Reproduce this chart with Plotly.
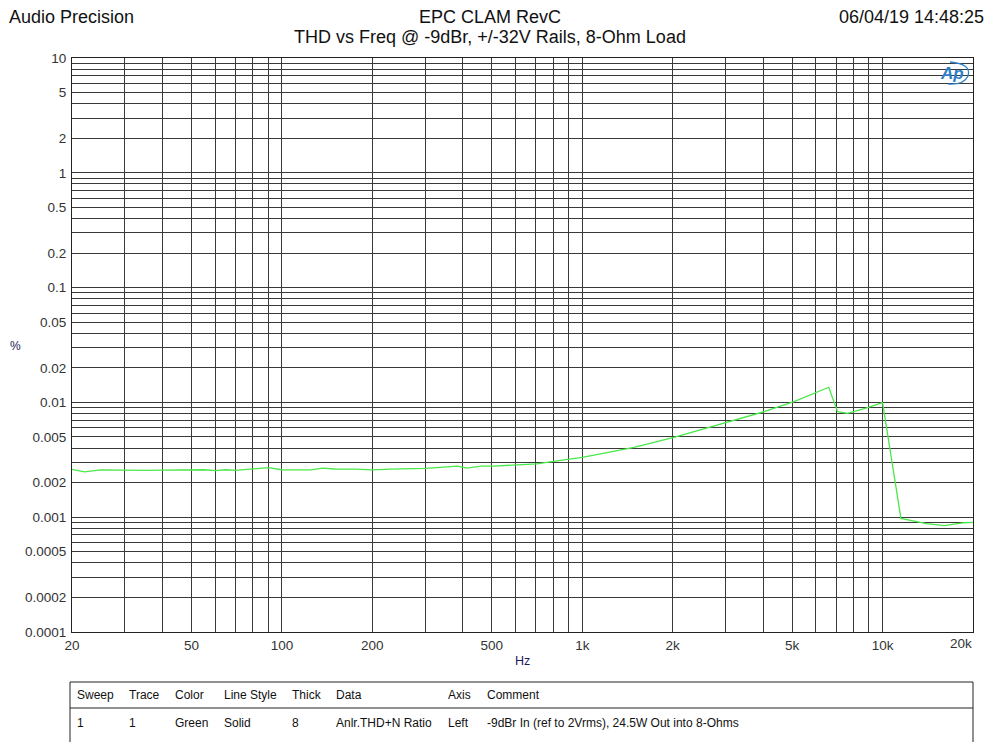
import plotly.graph_objects as go

# ---- data ----
freq_hz = [20, 22, 25, 30, 35, 40, 45, 50, 55, 60, 65, 70, 80, 90, 100, 110, 125, 137,
           150, 175, 200, 230, 260, 300, 345, 384, 413, 460, 506, 600, 705, 847, 1000,
           1150, 1486, 2019, 3041, 4030, 5070, 6620, 7080, 7640, 8800, 10000, 11510,
           14000, 16040, 18710, 20000]
thd_pct = [0.00261, 0.00248, 0.00258, 0.00255, 0.00256, 0.00257, 0.00258, 0.00256,
           0.00259, 0.00255, 0.00259, 0.00256, 0.00264, 0.00270, 0.00259, 0.00260,
           0.00258, 0.00268, 0.00263, 0.00262, 0.00258, 0.00262, 0.00263, 0.00266,
           0.00273, 0.00279, 0.00268, 0.00278, 0.00279, 0.00283, 0.00291, 0.00312,
           0.00332, 0.00356, 0.00406, 0.00497, 0.00679, 0.00830, 0.01014, 0.01355,
           0.00830, 0.00803, 0.00890, 0.00994, 0.000977, 0.00088, 0.000843, 0.000895,
           0.00090]

x_label_vals = [20, 50, 100, 200, 500, 1000, 2000, 5000, 10000]
x_label_text = ["20", "50", "100", "200", "500", "1k", "2k", "5k", "10k"]
x_last_label = "20k"
y_label_vals = [0.0001, 0.0002, 0.0005, 0.001, 0.002, 0.005, 0.01, 0.02, 0.05,
                0.1, 0.2, 0.5, 1, 2, 5, 10]
y_label_text = ["0.0001", "0.0002", "0.0005", "0.001", "0.002", "0.005", "0.01",
                "0.02", "0.05", "0.1", "0.2", "0.5", "1", "2", "5", "10"]

table_headers = ["Sweep", "Trace", "Color", "Line Style", "Thick", "Data", "Axis", "Comment"]
table_row = ["1", "1", "Green", "Solid", "8", "Anlr.THD+N Ratio", "Left",
             "-9dBr In (ref to 2Vrms), 24.5W Out into 8-Ohms"]

# ---- grid ticks (every 1..9 multiple) ----
x_grid = []
for d in [10, 100, 1000, 10000]:
    for m in range(1, 10):
        v = m * d
        if 20 <= v <= 20000:
            x_grid.append(v)
x_text = [x_label_text[x_label_vals.index(v)] if v in x_label_vals else "" for v in x_grid]

y_grid = []
for e in range(-4, 1):
    for m in range(1, 10):
        y_grid.append(round(m * 10 ** e, 6))
y_grid.append(10)
y_text = []
for v in y_grid:
    match = [t for lv, t in zip(y_label_vals, y_label_text) if abs(lv - v) < 1e-9]
    y_text.append(match[0] if match else "")

# page has an 8px body margin, so the figure is drawn 8px in from the window corner
OFF = 8
W, H = 992 - OFF, 742 - OFF
L, T = 72 - OFF, 58 - OFF
R = W - (973 - OFF)
B = H - (632 - OFF)
PW, PH = W - L - R, H - T - B


def px(xp):
    return (xp - OFF - L) / PW


def py(yp):
    return (H - B - (yp - OFF)) / PH


FONT = "Liberation Sans, Arial, sans-serif"
TICKF = dict(size=13.5, color="#333", family=FONT)

fig = go.Figure()
fig.add_trace(go.Scatter(x=freq_hz, y=thd_pct, mode="lines",
                         line=dict(color="#48e848", width=1.3), showlegend=False,
                         hoverinfo="x+y"))

fig.update_layout(
    width=W, height=H,
    margin=dict(l=L, r=R, t=T, b=B),
    paper_bgcolor="white", plot_bgcolor="white",
    font=dict(family=FONT, size=12, color="#222"),
    showlegend=False,
    xaxis=dict(type="log", range=[1.30103, 4.30103], tickmode="array",
               tickvals=x_grid, ticktext=x_text, showgrid=True,
               gridcolor="#3a3a3a", gridwidth=1, showline=True, mirror=True,
               linecolor="#222", linewidth=1, ticks="", zeroline=False,
               tickfont=TICKF, ticklabelstandoff=1),
    yaxis=dict(type="log", range=[-4, 1], tickmode="array",
               tickvals=y_grid, ticktext=y_text, showgrid=True,
               gridcolor="#3a3a3a", gridwidth=1, showline=True, mirror=True,
               linecolor="#222", linewidth=1, ticks="", zeroline=False,
               tickfont=TICKF, ticklabelstandoff=2),
)

ann = []
HDR = dict(size=18, color="#111")
ann.append(dict(text="Audio Precision", x=px(7), y=py(17), xanchor="left", yanchor="middle",
                font=HDR))
ann.append(dict(text="EPC CLAM RevC", x=px(490), y=py(17), xanchor="center", yanchor="middle",
                font=HDR))
ann.append(dict(text="THD vs Freq @ -9dBr, +/-32V Rails, 8-Ohm Load", x=px(490), y=py(37),
                xanchor="center", yanchor="middle", font=HDR))
ann.append(dict(text="06/04/19 14:48:25", x=px(986), y=py(17), xanchor="right", yanchor="middle",
                font=HDR))
ann.append(dict(text=x_last_label, x=px(974), y=py(643), xanchor="right", yanchor="middle",
                font=TICKF))
ann.append(dict(text="%", x=px(15), y=py(346), xanchor="center", yanchor="middle",
                font=dict(size=12, color="#1a1a5a")))
ann.append(dict(text="Hz", x=px(522), y=py(661), xanchor="center", yanchor="middle",
                font=dict(size=12.5, color="#1a1a5a")))
ann.append(dict(text="<i><b>Ap</b></i>", x=px(952), y=py(73), xanchor="center", yanchor="middle",
                font=dict(size=17, color="#2f7fc8")))

col_x = [75, 127, 173, 222, 290, 334, 446, 485]
for cx, h, r in zip(col_x, table_headers, table_row):
    ann.append(dict(text=h, x=px(cx), y=py(694.5), xanchor="left", yanchor="middle",
                    font=dict(size=12, color="#111")))
    ann.append(dict(text=r, x=px(cx), y=py(722.5), xanchor="left", yanchor="middle",
                    font=dict(size=12, color="#111")))
for a in ann:
    a.update(xref="paper", yref="paper", showarrow=False)
fig.update_layout(annotations=ann)

shapes = [
    dict(type="rect", xref="paper", yref="paper", x0=px(70), x1=px(973), y0=py(760), y1=py(682),
         line=dict(color="#222", width=1)),
    dict(type="line", xref="paper", yref="paper", x0=px(70), x1=px(973), y0=py(708), y1=py(708),
         line=dict(color="#222", width=1)),
    dict(type="path", xref="paper", yref="paper",
         path=f"M {px(950)},{py(62)} Q {px(972)},{py(64)} {px(968)},{py(76)} "
              f"Q {px(964)},{py(85)} {px(948)},{py(84)}",
         line=dict(color="#2f7fc8", width=1.3)),
]
fig.update_layout(shapes=shapes)

fig.write_html("out.html")
